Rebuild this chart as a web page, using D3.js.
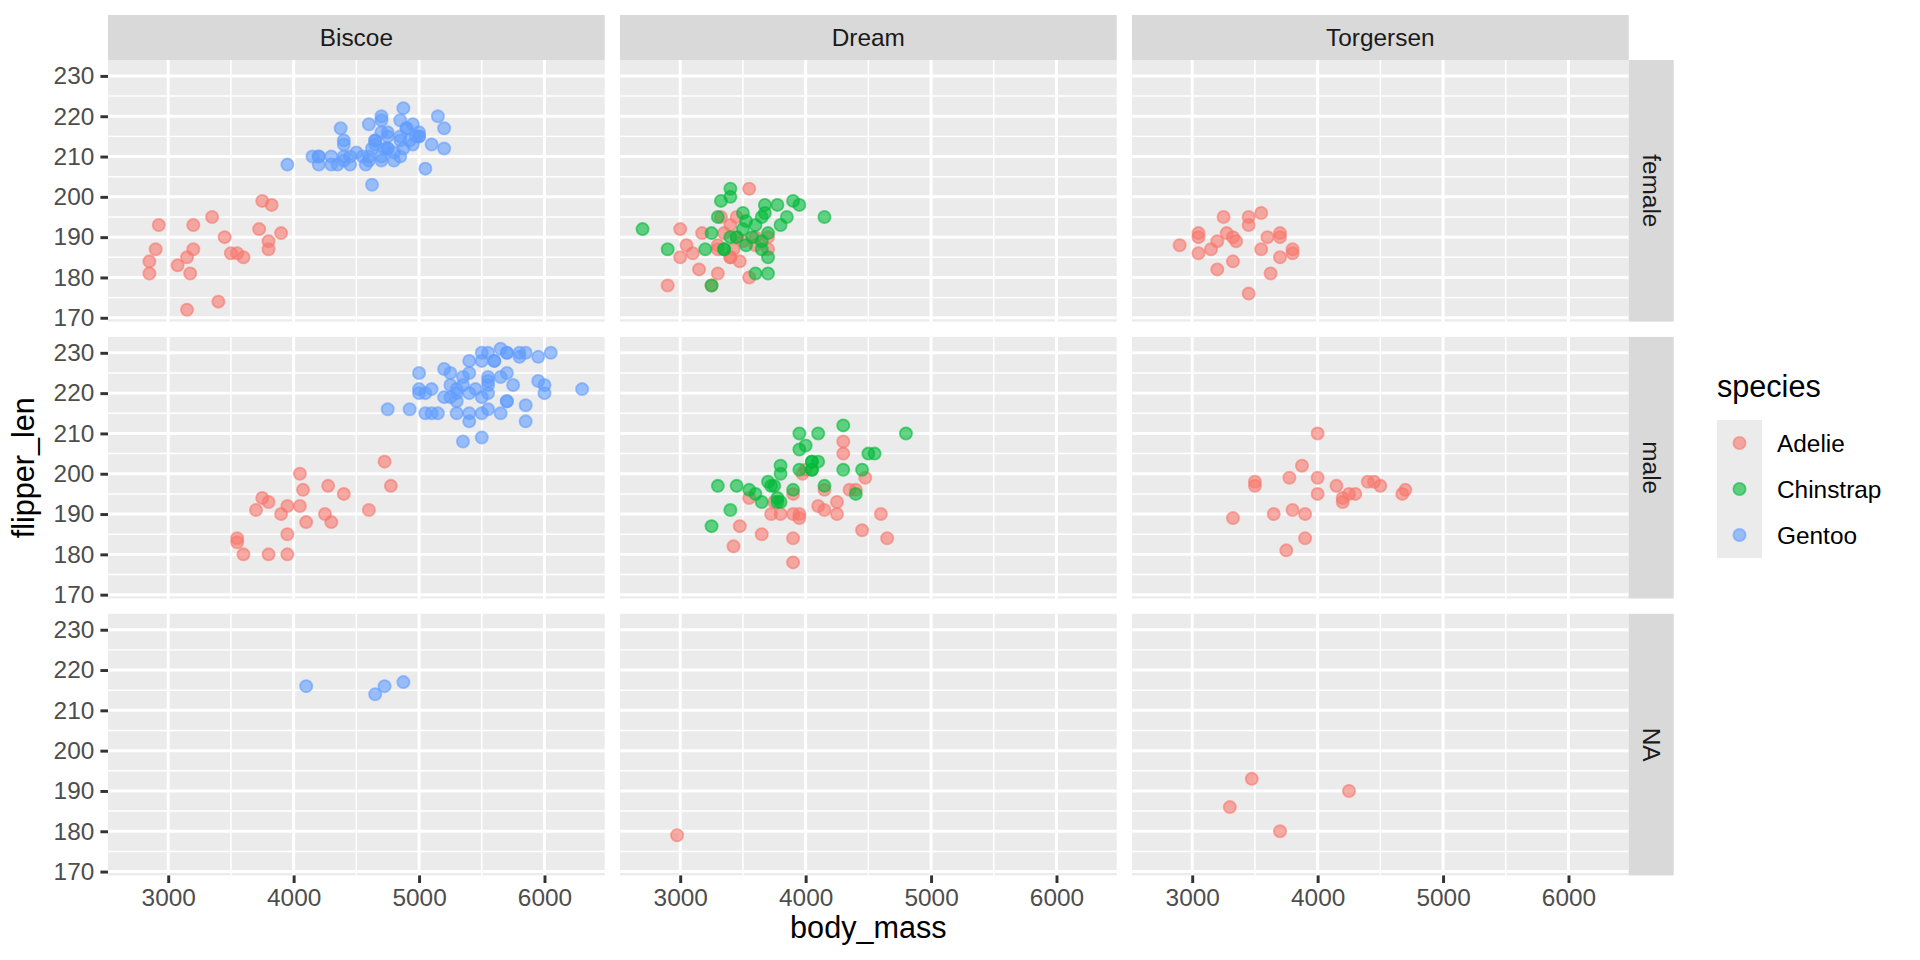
<!DOCTYPE html>
<html>
<head>
<meta charset="utf-8">
<script src="https://cdn.jsdelivr.net/npm/d3@7"></script>
<style>
  html, body { margin: 0; padding: 0; background: #ffffff; }
  svg text { font-family: "Liberation Sans", Arial, sans-serif; }
</style>
</head>
<body>
<svg id="chart" width="1920" height="960"></svg>
<script>
// ---------------- data ----------------
const islands = ["Biscoe", "Dream", "Torgersen"];
const sexes = ["female", "male", "NA"];
const speciesNames = ["Adelie", "Chinstrap", "Gentoo"];
const speciesColors = ["#F8766D", "#00BA38", "#619CFF"];
const xTickValues = [3000, 4000, 5000, 6000];
const xMinorValues = [2500, 3500, 4500, 5500, 6500];
const yTickValues = [170, 180, 190, 200, 210, 220, 230];
const yMinorValues = [165, 175, 185, 195, 205, 215, 225, 235];

// [body_mass, flipper_len]
const biscoeAdelieFemale = [[3400,174],[3800,189],[3800,187],[3200,187],[3150,172],[3500,186],[3450,190],[2900,187],[3550,186],[2850,181],[3150,185],[3600,185],[2850,184],[3350,195],[3725,192],[3075,183],[2925,193],[3750,199],[3175,181],[3825,198],[3200,193],[3900,191]];
const biscoeAdelieMale = [[3600,180],[3950,185],[3800,180],[3550,183],[3950,180],[4300,188],[4050,200],[3700,191],[3800,193],[3750,194],[4400,195],[4050,192],[3950,192],[4100,188],[4725,203],[4250,190],[3550,184],[3900,190],[4775,197],[4600,191],[4275,197],[4075,196]];
const biscoeGentooFemale = [[4500,211],[4450,210],[4550,210],[4800,211],[4400,209],[4650,214],[4650,214],[4200,210],[4150,210],[4800,209],[5000,215],[4400,213],[5000,215],[4600,210],[4700,209],[5050,207],[5150,220],[4950,213],[4350,208],[3950,208],[4300,210],[4900,217],[4200,210],[5100,213],[4850,210],[4400,210],[4900,217],[4300,208],[4450,208],[4200,208],[4400,214],[4700,219],[4700,220],[4750,216],[5200,217],[4700,216],[4600,209],[4750,215],[4625,212],[4725,212],[4750,212],[4600,218],[4875,212],[4950,218],[4750,212],[4850,214],[4875,222],[4625,203],[4850,219],[4975,215],[4700,210],[4575,208],[5000,216],[4650,213],[4375,217],[4925,214],[4850,215],[5200,212]];
const biscoeGentooMale = [[5700,230],[5700,218],[5400,215],[5200,219],[5150,215],[5550,216],[5850,213],[5850,217],[6300,221],[5350,222],[5700,218],[5050,215],[5100,215],[5650,215],[5550,220],[5250,222],[6050,230],[5400,220],[5250,219],[5350,208],[5700,225],[4750,216],[5550,222],[5400,225],[5300,215],[5300,220],[5000,225],[5050,220],[5000,220],[5550,224],[5300,221],[5650,231],[5700,230],[5800,229],[5550,223],[5000,221],[5100,221],[5800,230],[6000,220],[5950,223],[5450,221],[5350,224],[5600,228],[5300,218],[5550,230],[5400,228],[5650,224],[5200,226],[4925,216],[5250,225],[5600,228],[5500,228],[5500,215],[5500,219],[5500,209],[5950,229],[5500,230],[5850,230],[6000,222],[5750,222],[5400,213]];
const biscoeGentooNA = [[4100,216],[4650,214],[4725,216],[4875,217]];
const dreamAdelieFemale = [[3250,178],[3300,188],[3325,195],[3550,180],[3300,181],[3150,182],[3100,186],[3000,185],[3450,190],[3350,191],[3500,189],[3600,190],[3550,202],[3400,185],[3300,187],[3700,190],[2900,178],[3425,187],[3175,191],[3400,185],[3400,193],[3050,188],[3000,192],[3475,184],[3450,195],[3700,187],[3600,188]];
const dreamAdelieMale = [[3900,178],[3900,184],[4150,196],[3950,190],[4650,184],[3900,195],[4400,196],[4600,190],[3425,182],[4150,191],[3550,194],[3800,190],[3950,189],[4300,205],[4450,186],[4300,208],[4350,196],[4100,192],[4475,199],[3900,190],[3975,200],[4250,193],[3475,187],[3725,190],[3650,185],[4250,190],[3750,193],[4000,201]];
const dreamAdelieNA = [[2975,179]];
const dreamChinstrapFemale = [[3500,192],[3525,188],[3950,198],[3250,178],[4150,195],[3800,193],[3700,185],[3575,190],[3700,181],[3450,190],[3600,181],[2900,187],[3300,195],[3400,200],[3700,191],[3200,187],[3350,187],[3900,199],[3850,195],[2700,192],[3650,187],[3500,196],[3675,196],[3400,190],[3675,198],[3325,199],[3600,193],[3350,187],[3250,191],[3525,194],[3650,189],[3650,195],[3400,202],[3775,198]];
const dreamChinstrapMale = [[3900,196],[3650,193],[3725,197],[3750,197],[3700,198],[3775,194],[4050,201],[4050,201],[3300,197],[4400,195],[3400,191],[3800,193],[4150,197],[3800,200],[4550,205],[4300,201],[4100,203],[3600,195],[4800,210],[4500,205],[3950,210],[3550,196],[4450,201],[4300,212],[3250,187],[3950,201],[4050,203],[3450,197],[4050,203],[3800,202],[3950,206],[4000,207],[3775,193],[4100,210]];
const torgersenAdelieFemale = [[3800,186],[3250,195],[3450,193],[3625,181],[3200,182],[3700,185],[3450,195],[3325,184],[3050,190],[3600,190],[3550,196],[3700,190],[3700,191],[3550,187],[3200,189],[3800,187],[2900,188],[3350,189],[3150,187],[3450,176],[3050,186],[3275,191],[3050,191],[3325,190]];
const torgersenAdelieMale = [[3750,181],[3650,190],[4675,195],[3800,191],[4400,198],[4500,197],[4200,194],[4450,198],[3900,190],[4150,197],[4250,195],[3900,184],[4000,195],[4700,196],[4200,193],[3775,199],[3325,189],[3500,198],[3875,202],[4000,199],[4300,195],[4000,210],[3500,197]];
const torgersenAdelieNA = [[3475,193],[4250,190],[3300,186],[3700,180]];

// groups in drawing order (Adelie, Gentoo, Chinstrap as in the data)
const groups = [
  {island: "Biscoe", sex: "female", species: "Adelie", values: biscoeAdelieFemale},
  {island: "Biscoe", sex: "male", species: "Adelie", values: biscoeAdelieMale},
  {island: "Dream", sex: "female", species: "Adelie", values: dreamAdelieFemale},
  {island: "Dream", sex: "male", species: "Adelie", values: dreamAdelieMale},
  {island: "Dream", sex: "NA", species: "Adelie", values: dreamAdelieNA},
  {island: "Torgersen", sex: "female", species: "Adelie", values: torgersenAdelieFemale},
  {island: "Torgersen", sex: "male", species: "Adelie", values: torgersenAdelieMale},
  {island: "Torgersen", sex: "NA", species: "Adelie", values: torgersenAdelieNA},
  {island: "Biscoe", sex: "female", species: "Gentoo", values: biscoeGentooFemale},
  {island: "Biscoe", sex: "male", species: "Gentoo", values: biscoeGentooMale},
  {island: "Biscoe", sex: "NA", species: "Gentoo", values: biscoeGentooNA},
  {island: "Dream", sex: "female", species: "Chinstrap", values: dreamChinstrapFemale},
  {island: "Dream", sex: "male", species: "Chinstrap", values: dreamChinstrapMale}
];

// ---------------- layout ----------------
const plotLeft = 108, plotTop = 60;
const panelW = 496.7, panelH = 261.6, gap = 15.3;
const stripSize = 45;
const tickLen = 7.6, tickPad = 6.1;
const axisFont = 24.4, titleFont = 30.6;
const gridMajor = 2.96, gridMinor = 1.48;

const allPts = groups.flatMap(g => g.values);
const xExt = d3.extent(allPts, d => d[0]);
const yExt = d3.extent(allPts, d => d[1]);
const xPad = (xExt[1] - xExt[0]) * 0.05, yPad = (yExt[1] - yExt[0]) * 0.05;

const x = d3.scaleLinear().domain([xExt[0] - xPad, xExt[1] + xPad]).range([0, panelW]);
const y = d3.scaleLinear().domain([yExt[0] - yPad, yExt[1] + yPad]).range([panelH, 0]);
const color = d3.scaleOrdinal().domain(speciesNames).range(speciesColors);

const svg = d3.select("#chart");
svg.append("rect").attr("width", 1920).attr("height", 960).attr("fill", "#ffffff");

const inDomX = v => v >= x.domain()[0] && v <= x.domain()[1];
const inDomY = v => v >= y.domain()[0] && v <= y.domain()[1];

sexes.forEach((sex, r) => {
  islands.forEach((isl, c) => {
    const px = plotLeft + c * (panelW + gap);
    const py = plotTop + r * (panelH + gap);
    const g = svg.append("g").attr("transform", `translate(${px},${py})`);
    g.append("rect").attr("width", panelW).attr("height", panelH).attr("fill", "#EBEBEB");
    // minor grid
    g.selectAll(".mx").data(xMinorValues.filter(inDomX)).join("line")
      .attr("x1", d => x(d)).attr("x2", d => x(d)).attr("y1", 0).attr("y2", panelH)
      .attr("stroke", "#ffffff").attr("stroke-width", gridMinor);
    g.selectAll(".my").data(yMinorValues.filter(inDomY)).join("line")
      .attr("y1", d => y(d)).attr("y2", d => y(d)).attr("x1", 0).attr("x2", panelW)
      .attr("stroke", "#ffffff").attr("stroke-width", gridMinor);
    // major grid
    g.selectAll(".Mx").data(xTickValues).join("line")
      .attr("x1", d => x(d)).attr("x2", d => x(d)).attr("y1", 0).attr("y2", panelH)
      .attr("stroke", "#ffffff").attr("stroke-width", gridMajor);
    g.selectAll(".My").data(yTickValues).join("line")
      .attr("y1", d => y(d)).attr("y2", d => y(d)).attr("x1", 0).attr("x2", panelW)
      .attr("stroke", "#ffffff").attr("stroke-width", gridMajor);

    // points
    groups.filter(gr => gr.island === isl && gr.sex === sex).forEach(gr => {
      g.append("g").selectAll("circle").data(gr.values).join("circle")
        .attr("cx", d => x(d[0])).attr("cy", d => y(d[1])).attr("r", 6.1)
        .attr("fill", color(gr.species)).attr("fill-opacity", 0.6)
        .attr("stroke", color(gr.species)).attr("stroke-opacity", 0.6)
        .attr("stroke-width", 1.8);
    });

    // top strip
    if (r === 0) {
      svg.append("rect").attr("x", px).attr("y", plotTop - stripSize)
        .attr("width", panelW).attr("height", stripSize).attr("fill", "#D9D9D9");
      svg.append("text").attr("x", px + panelW / 2).attr("y", plotTop - stripSize / 2)
        .attr("dy", "0.35em").attr("text-anchor", "middle")
        .attr("font-size", axisFont).attr("fill", "#1A1A1A").text(isl);
    }
    // right strip
    if (c === islands.length - 1) {
      const sx = px + panelW;
      svg.append("rect").attr("x", sx).attr("y", py)
        .attr("width", stripSize).attr("height", panelH).attr("fill", "#D9D9D9");
      svg.append("text")
        .attr("transform", `translate(${sx + stripSize / 2},${py + panelH / 2}) rotate(90)`)
        .attr("dy", "0.35em").attr("text-anchor", "middle")
        .attr("font-size", axisFont).attr("fill", "#1A1A1A").text(sex);
    }
    // left axis
    if (c === 0) {
      const ax = svg.append("g").attr("transform", `translate(${px},${py})`)
        .call(d3.axisLeft(y).tickValues(yTickValues).tickFormat(d3.format("d"))
          .tickSize(tickLen).tickPadding(tickPad));
      ax.select(".domain").remove();
      ax.selectAll("line").attr("stroke", "#333333").attr("stroke-width", gridMajor);
      ax.selectAll("text").attr("font-size", axisFont).attr("fill", "#4D4D4D")
        .attr("font-family", null);
    }
    // bottom axis
    if (r === sexes.length - 1) {
      const ax = svg.append("g").attr("transform", `translate(${px},${py + panelH})`)
        .call(d3.axisBottom(x).tickValues(xTickValues).tickFormat(d3.format("d"))
          .tickSize(tickLen).tickPadding(tickPad));
      ax.select(".domain").remove();
      ax.selectAll("line").attr("stroke", "#333333").attr("stroke-width", gridMajor);
      ax.selectAll("text").attr("font-size", axisFont).attr("fill", "#4D4D4D")
        .attr("font-family", null);
    }
  });
});

// axis titles
const plotRight = plotLeft + islands.length * panelW + (islands.length - 1) * gap;
const plotBottom = plotTop + sexes.length * panelH + (sexes.length - 1) * gap;
svg.append("text").attr("x", (plotLeft + plotRight) / 2).attr("y", 938)
  .attr("text-anchor", "middle").attr("font-size", titleFont).attr("fill", "#000000")
  .text("body_mass");
svg.append("text")
  .attr("transform", `translate(34,${(plotTop + plotBottom) / 2}) rotate(-90)`)
  .attr("text-anchor", "middle").attr("font-size", titleFont).attr("fill", "#000000")
  .text("flipper_len");

// legend
const legX = 1717, legTitleY = 397, keyTop = 420, keyH = 46, keyW = 45;
const leg = svg.append("g");
leg.append("text").attr("x", legX).attr("y", legTitleY)
  .attr("font-size", titleFont).attr("fill", "#000000").text("species");
leg.append("rect").attr("x", legX).attr("y", keyTop).attr("width", keyW)
  .attr("height", keyH * speciesNames.length).attr("fill", "#EBEBEB");
speciesNames.forEach((s, i) => {
  const cy = keyTop + keyH * i + keyH / 2;
  leg.append("circle").attr("cx", legX + keyW / 2).attr("cy", cy).attr("r", 6.1)
    .attr("fill", color(s)).attr("fill-opacity", 0.6)
    .attr("stroke", color(s)).attr("stroke-opacity", 0.6).attr("stroke-width", 1.8);
  leg.append("text").attr("x", legX + keyW + 15).attr("y", cy).attr("dy", "0.35em")
    .attr("font-size", axisFont).attr("fill", "#000000").text(s);
});
</script>
</body>
</html>
